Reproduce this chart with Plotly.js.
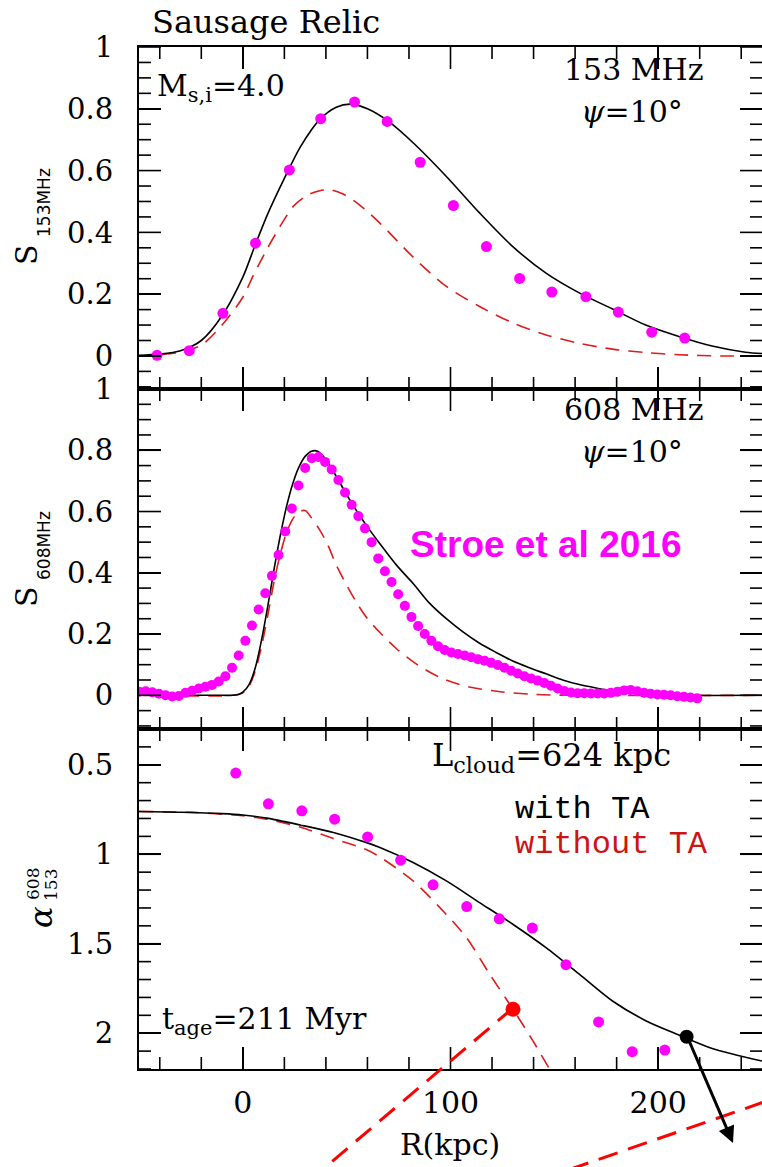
<!DOCTYPE html>
<html>
<head>
<meta charset="utf-8">
<script src="https://cdn.plot.ly/plotly-3.0.1.min.js"></script>
<style>html,body{margin:0;padding:0;background:#fff;}#chart{width:762px;height:1167px;}</style>
</head>
<body>
<div id="chart"></div>
<script>
// ---------- DATA ----------
// Panel 1: 153 MHz surface brightness
const R153obs = [-41.3,-25.8,-9.6,6.1,22.4,37.5,53.8,69.5,85.4,101.4,117.3,133.3,148.8,165.2,180.8,196.9,212.8];
const S153obs = [0.002,0.017,0.138,0.365,0.602,0.768,0.822,0.759,0.627,0.487,0.354,0.251,0.207,0.192,0.142,0.077,0.058];
const R153withTA = [-50,-40,-30,-20,-10,0,6,12,20,28,37,45,52,60,70,82,98,114,130,146,162,178,194,210,226,242,250];
const S153withTA = [0.002,0.006,0.017,0.05,0.13,0.255,0.36,0.46,0.575,0.68,0.765,0.805,0.815,0.8,0.76,0.69,0.581,0.463,0.354,0.268,0.204,0.152,0.10,0.063,0.032,0.012,0.008];
const R153noTA = [-50,-40,-30,-20,-10,0,5,11.5,18,24.3,31,37,42,48,56,66,82,98,114,130,146,162,178,194,210,230,250];
const S153noTA = [0,0.004,0.012,0.035,0.1,0.19,0.26,0.344,0.42,0.484,0.52,0.535,0.538,0.525,0.49,0.43,0.32,0.225,0.16,0.107,0.068,0.041,0.022,0.011,0.004,0.0,0];

// Panel 2: 608 MHz surface brightness (Stroe et al 2016 points)
const R608obs = [-50,-46.8,-43.6,-40.4,-37.2,-34,-30.8,-27.6,-24.4,-21.2,
  -18,-14.8,-11.6,-8.4,-5.2,-2,1.2,4.4,7.6,10.8,
  14,17.2,20.4,23.6,26.8,30,33.2,36.4,39.6,42.8,
  46,49.2,52.4,55.6,58.8,62,65.2,68.4,71.6,74.8,
  78,81.2,84.4,87.6,90.8,94,97.2,100.4,103.6,106.8,
  110,113.2,116.4,119.6,122.8,126,129.2,132.4,135.6,138.8,
  142,145.2,148.4,151.6,154.8,158,161.2,164.4,167.6,170.8,
  174,177.2,180.4,183.6,186.8,190,193.2,196.4,199.6,202.8,
  206,209.2,212.4,215.6,218.8];
const S608obs = [0.012,0.013,0.010,0.005,0.000,-0.004,-0.002,0.008,0.015,0.022,
  0.028,0.034,0.045,0.062,0.09,0.13,0.178,0.228,0.28,0.333,
  0.39,0.458,0.535,0.61,0.685,0.742,0.774,0.778,0.762,0.737,
  0.703,0.662,0.622,0.585,0.545,0.5,0.447,0.405,0.37,0.33,
  0.292,0.256,0.226,0.2,0.178,0.16,0.148,0.14,0.135,0.13,
  0.124,0.118,0.113,0.106,0.099,0.09,0.08,0.071,0.062,0.055,
  0.048,0.04,0.031,0.022,0.014,0.009,0.007,0.007,0.006,0.006,
  0.006,0.008,0.012,0.016,0.017,0.013,0.008,0.005,0.003,0.002,
  0.0,-0.003,-0.005,-0.007,-0.01];
const R608withTA = [-50,-10,-5,-2,0,3,6,9,12,15,18,21,24,27,30,33,36,40,45,50,55,60,66,74,82,90,98,106,114,122,130,138,146,154,162,170,178,186,194,202,210,250];
const S608withTA = [0,0,0,0.003,0.01,0.035,0.09,0.18,0.29,0.41,0.52,0.615,0.69,0.745,0.78,0.797,0.797,0.77,0.715,0.655,0.6,0.55,0.495,0.425,0.365,0.3,0.25,0.207,0.17,0.14,0.112,0.09,0.07,0.05,0.035,0.024,0.015,0.009,0.005,0.002,0,0];
const R608noTA = [-50,-5,0,3,6,9,12,15,18,21,24,27,30,33,37,41,45,50,55,60,66,74,84,95,109,125,140,160,250];
const S608noTA = [0,0,0.008,0.03,0.08,0.16,0.26,0.37,0.46,0.53,0.575,0.6,0.603,0.58,0.54,0.49,0.425,0.36,0.3,0.25,0.205,0.152,0.1,0.058,0.027,0.011,0.003,0,0];

// Panel 3: spectral index alpha(153-608)
const RalphaObs = [-3.4,12.3,28.4,44.2,60.1,76,91.6,107.8,123.5,139.4,155.6,171.3,187.5,203.2];
const alphaObs = [0.546,0.718,0.757,0.804,0.903,1.033,1.171,1.292,1.361,1.412,1.617,1.937,2.103,2.094];
const RalphaWithTA = [-50,-30,-10,0,11.5,27.5,43.6,59.6,66,82,98,114,130,146,162,178,194,210,226,250];
const alphaWithTA = [0.761,0.765,0.773,0.781,0.798,0.836,0.878,0.935,0.962,1.046,1.149,1.27,1.391,1.522,1.67,1.82,1.93,2.01,2.085,2.155];
const RalphaNoTA = [-50,-25,0,15,27.5,43.6,59.6,66,82,94.9,107.7,118.9,130.1,139.7,147.7,152];
const alphaNoTA = [0.761,0.766,0.785,0.812,0.848,0.912,0.975,1.015,1.149,1.298,1.466,1.671,1.866,2.043,2.2,2.28];
// highlighted points
const markNoTA = {R:[130.1], alpha:[1.866]};
const markWithTA = {R:[213.7], alpha:[2.02]};

// axis ranges and tick values
const xRange = [-50, 250];
const yRangeS153 = [-0.107, 1];
const yRangeS608 = [-0.11, 1];
const yRangeAlpha = [2.2, 0.3];
const xMajorTicks = [0, 100, 200];
const xMinorTicks = [-40, -20, 20, 40, 60, 80, 120, 140, 160, 180, 220, 240];
const sMajorTicks = [0, 0.2, 0.4, 0.6, 0.8, 1];
const sMinorTicks = [-0.1, -0.05, 0.05, 0.1, 0.15, 0.25, 0.3, 0.35, 0.45, 0.5, 0.55, 0.65, 0.7, 0.75, 0.85, 0.9, 0.95];
const aMajorTicks = [0.5, 1, 1.5, 2];
const aMinorTicks = [0.3, 0.4, 0.6, 0.7, 0.8, 0.9, 1.1, 1.2, 1.3, 1.4, 1.6, 1.7, 1.8, 1.9, 2.1, 2.2];

// ---------- STYLE ----------
const MAG = '#ff00ff', RED = 'rgb(222,28,28)', BLK = '#000';
const serif = 'DejaVu Serif';
const W = 762, H = 1167, ML = 139, MR = 0, MT = 47, MB = 98;
const PW = W - ML - MR, PH = H - MT - MB;
const xp = px => (px - ML) / PW;
const yp = py => (H - MB - py) / PH;
const MAJ = 22, MIN = 12, TW = 1.6;

function solid(x, y, xa, ya){ return {x, y, xaxis:xa, yaxis:ya, mode:'lines', type:'scatter', line:{color:BLK, width:1.6, shape:'spline', smoothing:0.8}}; }
function dashed(x, y, xa, ya){ return {x, y, xaxis:xa, yaxis:ya, mode:'lines', type:'scatter', line:{color:RED, width:1.6, dash:'14px,9px', shape:'spline', smoothing:0.8}}; }
function dots(x, y, xa, ya, s){ return {x, y, xaxis:xa, yaxis:ya, mode:'markers', type:'scatter', marker:{color:MAG, size:s, line:{width:0}}}; }

const traces = [
  dashed(R153noTA, S153noTA, 'x', 'y'),
  solid(R153withTA, S153withTA, 'x', 'y'),
  dots(R153obs, S153obs, 'x', 'y', 11),
  dashed(R608noTA, S608noTA, 'x2', 'y2'),
  solid(R608withTA, S608withTA, 'x2', 'y2'),
  dots(R608obs, S608obs, 'x2', 'y2', 10),
  dashed(RalphaNoTA, alphaNoTA, 'x3', 'y3'),
  solid(RalphaWithTA, alphaWithTA, 'x3', 'y3'),
  dots(RalphaObs, alphaObs, 'x3', 'y3', 11),
  {x:markNoTA.R, y:markNoTA.alpha, xaxis:'x3', yaxis:'y3', mode:'markers', type:'scatter', marker:{color:'#ff0000', size:15}},
  {x:markWithTA.R, y:markWithTA.alpha, xaxis:'x3', yaxis:'y3', mode:'markers', type:'scatter', marker:{color:'#000', size:14}}
];

function xAxis(anchor, labels){
  return {anchor, range:xRange, showline:true, linecolor:BLK, linewidth:2, mirror:'ticks', ticks:'inside', ticklen:MAJ, tickwidth:TW, tickcolor:BLK,
    tickmode:'array', tickvals:xMajorTicks, showgrid:false, zeroline:false, showticklabels:labels,
    tickfont:{family:serif, size:30, color:BLK}, ticklabelstandoff:6};
}
function yAxis(anchor, domain, range, vals){
  return {anchor, domain, range, showline:true, linecolor:BLK, linewidth:2, mirror:'ticks', ticks:'inside', ticklen:MAJ, tickwidth:TW, tickcolor:BLK,
    tickmode:'array', tickvals:vals, showgrid:false, zeroline:false,
    tickfont:{family:serif, size:29, color:BLK}, ticklabelstandoff:18};
}
const d1 = 340/PH, d2 = 680/PH;

// tick marks on all four sides of a panel, placed through the panel's own axes
function panelTicks(xa, ya, xr, yr, yMaj, yMin){
  const out = [];
  const ln = {color:BLK, width:TW};
  const addX = (vals, len) => vals.forEach(v => {
    out.push({type:'line', layer:'above', xref:xa, yref:ya, x0:v, x1:v, ysizemode:'pixel', yanchor:yr[0], y0:0, y1:len, line:ln});
    out.push({type:'line', layer:'above', xref:xa, yref:ya, x0:v, x1:v, ysizemode:'pixel', yanchor:yr[1], y0:0, y1:-len, line:ln});
  });
  const addY = (vals, len) => vals.forEach(v => {
    out.push({type:'line', layer:'above', xref:xa, yref:ya, y0:v, y1:v, xsizemode:'pixel', xanchor:xr[0], x0:0, x1:len, line:ln});
    out.push({type:'line', layer:'above', xref:xa, yref:ya, y0:v, y1:v, xsizemode:'pixel', xanchor:xr[1], x0:0, x1:-len, line:ln});
  });
  addX(xMajorTicks, MAJ); addX(xMinorTicks, MIN);
  addY(yMaj, MAJ); addY(yMin, MIN);
  return out;
}

function txt(text, px, py, anchor, size, extra){
  return Object.assign({text, xref:'paper', yref:'paper', x:xp(px), y:yp(py), xanchor:anchor, yanchor:'middle', showarrow:false,
    font:{family:serif, size:size, color:BLK}}, extra||{});
}

const annotations = [
  txt('Sausage Relic', 150, 22, 'left', 32),
  txt('M<sub>s,i</sub>=4.0', 155, 88, 'left', 30),
  txt('153 MHz', 705, 69, 'right', 30),
  txt('<i>ψ</i>=10°', 685, 112, 'right', 30),
  txt('608 MHz', 705, 409, 'right', 30),
  txt('<i>ψ</i>=10°', 685, 451, 'right', 30),
  txt('<b>Stroe et al 2016</b>', 408, 544, 'left', 37, {font:{family:'Liberation Sans', size:37, color:MAG}}),
  txt('L<sub>cloud</sub>=624 kpc', 430, 757, 'left', 32),
  txt('with TA', 513, 809, 'left', 32, {font:{family:'Liberation Mono', size:32, color:BLK}}),
  txt('without TA', 513, 844, 'left', 32, {font:{family:'Liberation Mono', size:32, color:'rgb(205,20,20)'}}),
  txt('t<sub>age</sub>=211 Myr', 160, 1020, 'left', 30),
  txt('R(kpc)', 450, 1144, 'center', 30),
  // y-axis titles
  txt('S', 26, 255, 'center', 30, {textangle:-90}),
  txt('153MHz', 44, 203, 'center', 17, {textangle:-90, font:{family:'DejaVu Sans', size:17, color:BLK}}),
  txt('S', 26, 597, 'center', 30, {textangle:-90}),
  txt('608MHz', 44, 546, 'center', 17, {textangle:-90, font:{family:'DejaVu Sans', size:17, color:BLK}}),
  txt('<i>α</i>', 41, 917, 'center', 32, {textangle:-90}),
  txt('608', 33, 884, 'center', 17, {textangle:-90}),
  txt('153', 51, 885, 'center', 17, {textangle:-90}),
  // arrow from the with-TA marker (tail on the marker, head below the panel)
  {xref:'paper', yref:'paper', x:xp(733), y:yp(1143), ax:-46, ay:-107, text:'', showarrow:true,
    arrowhead:2, arrowsize:1.1, arrowwidth:3, arrowcolor:BLK, standoff:0}
];

const shapes = [].concat(
  panelTicks('x', 'y', xRange, yRangeS153, sMajorTicks, sMinorTicks),
  panelTicks('x2', 'y2', xRange, yRangeS608, sMajorTicks, sMinorTicks),
  panelTicks('x3', 'y3', xRange, yRangeAlpha, aMajorTicks, aMinorTicks),
  [
    {type:'line', xref:'paper', yref:'paper', x0:xp(513), y0:yp(1008), x1:xp(322), y1:yp(1170), line:{color:'#ff0000', width:3, dash:'20px,11px'}},
    {type:'line', xref:'paper', yref:'paper', x0:xp(764), y0:yp(1102), x1:xp(568), y1:yp(1170), line:{color:'#ff0000', width:3, dash:'20px,11px'}}
  ]
);

const layout = {
  width:W, height:H, margin:{l:ML, r:MR, t:MT, b:MB},
  paper_bgcolor:'#fff', plot_bgcolor:'#fff', showlegend:false,
  font:{family:serif, color:BLK},
  xaxis: xAxis('y', false),
  xaxis2: xAxis('y2', false),
  xaxis3: xAxis('y3', true),
  yaxis: yAxis('x', [d2, 1], yRangeS153, sMajorTicks),
  yaxis2: yAxis('x2', [d1, d2], yRangeS608, sMajorTicks),
  yaxis3: yAxis('x3', [0, d1], yRangeAlpha, aMajorTicks),
  annotations, shapes
};

Plotly.newPlot('chart', traces, layout, {displayModeBar:false, staticPlot:true});
</script>
</body>
</html>
